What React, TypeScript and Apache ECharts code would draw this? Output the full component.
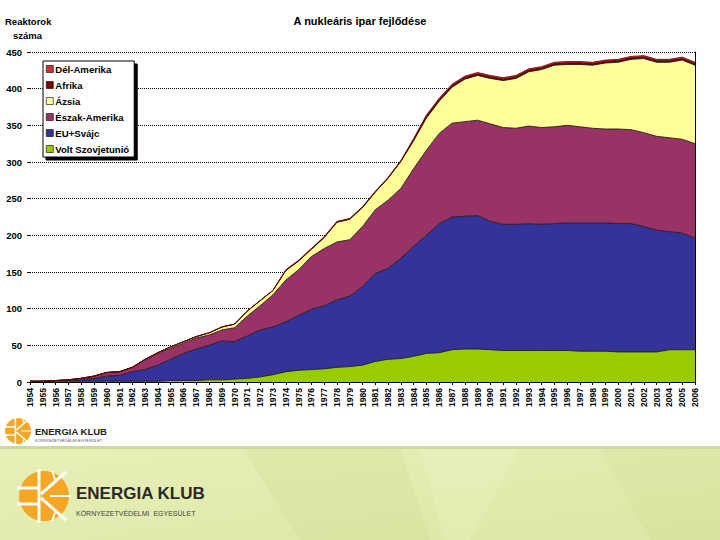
import React, { useEffect, useRef } from "react";
import * as echarts from "echarts";

const years = [
  "1954", "1955", "1956", "1957", "1958", "1959", "1960", "1961", "1962", "1963",
  "1964", "1965", "1966", "1967", "1968", "1969", "1970", "1971", "1972", "1973",
  "1974", "1975", "1976", "1977", "1978", "1979", "1980", "1981", "1982", "1983",
  "1984", "1985", "1986", "1987", "1988", "1989", "1990", "1991", "1992", "1993",
  "1994", "1995", "1996", "1997", "1998", "1999", "2000", "2001", "2002", "2003",
  "2004", "2005", "2006",
];

const voltSzovjetunio = [
  1, 1, 1, 1, 1, 1, 1, 1, 1, 1,
  1, 2, 2, 2, 3, 3, 4, 5, 7, 10,
  14, 16, 17, 18, 20, 21, 23, 28, 31, 32,
  35, 39, 40, 44, 45, 45, 44, 43, 43, 43,
  43, 43, 43, 42, 42, 42, 41, 41, 41, 41,
  44, 44, 44,
];

const euSvajc = [
  0, 0, 1, 1, 2, 4, 7, 8, 13, 16,
  22, 29, 37, 43, 47, 53, 51, 58, 64, 65,
  68, 75, 82, 86, 92, 96, 107, 120, 124, 137,
  150, 161, 176, 181, 181, 182, 175, 172, 172, 173,
  172, 173, 174, 175, 175, 175, 175, 175, 171, 166,
  161, 159, 152,
];

const eszakAmerika = [
  0, 0, 0, 1, 2, 3, 5, 5, 6, 13,
  16, 15, 14, 15, 14, 15, 19, 27, 33, 44,
  57, 62, 72, 78, 79, 77, 82, 87, 93, 95,
  106, 116, 123, 128, 129, 130, 133, 132, 131, 133,
  132, 132, 133, 131, 129, 128, 129, 128, 128, 128,
  128, 128, 129,
];

const azsia = [
  0, 0, 0, 0, 0, 0, 0, 0, 0, 1,
  1, 2, 2, 2, 3, 4, 5, 7, 7, 6,
  13, 12, 10, 15, 27, 28, 26, 24, 30, 37,
  38, 44, 44, 49, 58, 61, 62, 64, 68, 74,
  79, 84, 83, 85, 86, 90, 91, 96, 101, 101,
  103, 108, 107,
];

const afrika = [
  0, 0, 0, 0, 0, 0, 0, 0, 0, 0,
  0, 0, 0, 0, 0, 0, 0, 0, 0, 0,
  0, 0, 0, 0, 0, 0, 0, 0, 0, 0,
  1, 2, 2, 2, 2, 2, 2, 2, 2, 2,
  2, 2, 2, 2, 2, 2, 2, 2, 2, 2,
  2, 2, 2,
];

const delAmerika = [
  0, 0, 0, 0, 0, 0, 0, 0, 0, 0,
  0, 0, 0, 0, 0, 0, 0, 0, 0, 0,
  1, 1, 1, 1, 1, 1, 1, 1, 1, 1,
  2, 2, 2, 2, 2, 2, 2, 2, 2, 2,
  2, 2, 2, 2, 2, 2, 2, 2, 2, 2,
  2, 2, 2,
];

const legendOrder = ["Dél-Amerika", "Afrika", "Ázsia", "Észak-Amerika", "EU+Svájc", "Volt Szovjetunió"];

const FONT = "'Liberation Sans', Arial, sans-serif";

function logoMark(cx: number, cy: number, s: number) {
  const w = 3;
  const white = { stroke: "#ffffff", lineWidth: w };
  return {
    type: "group",
    x: cx,
    y: cy,
    scaleX: s,
    scaleY: s,
    children: [
      { type: "circle", shape: { cx: 0, cy: 0, r: 25 }, style: { fill: "#F5A623" } },
      { type: "line", shape: { x1: -5, y1: -27, x2: -5, y2: 27 }, style: white },
      { type: "line", shape: { x1: -27, y1: -8, x2: -5, y2: -8 }, style: white },
      { type: "line", shape: { x1: -27, y1: 8, x2: -5, y2: 8 }, style: white },
      { type: "line", shape: { x1: -3, y1: -2, x2: 22, y2: -24 }, style: white },
      { type: "line", shape: { x1: -3, y1: 2, x2: 22, y2: 24 }, style: white },
      { type: "line", shape: { x1: 6, y1: 0, x2: 27, y2: 0 }, style: { stroke: "#ffffff", lineWidth: 2 } },
      { type: "line", shape: { x1: 8, y1: -25, x2: 12, y2: -14 }, style: { stroke: "#ffffff", lineWidth: 2 } },
      { type: "line", shape: { x1: 8, y1: 25, x2: 12, y2: 14 }, style: { stroke: "#ffffff", lineWidth: 2 } },
    ],
  };
}

export default function App() {
  const ref = useRef<HTMLDivElement>(null);

  useEffect(() => {
    if (!ref.current) return;
    const chart = echarts.init(ref.current, null, { renderer: "svg" });

    const mk = (name: string, data: number[], color: string, lineColor: string) => ({
      name,
      type: "line",
      stack: "total",
      data,
      symbol: "none",
      showSymbol: false,
      silent: true,
      areaStyle: { color, opacity: 1 },
      lineStyle: { color: lineColor, width: 0.9 },
      itemStyle: { color, borderColor: "#000", borderWidth: 0.6 },
      emphasis: { disabled: true },
    });

    chart.setOption({
      animation: false,
      backgroundColor: "#ffffff",
      textStyle: { fontFamily: FONT },
      title: {
        text: "A nukleáris ipar fejlődése",
        left: "center",
        top: 15,
        padding: 0,
        textStyle: { fontFamily: FONT, fontSize: 11, fontWeight: "bold", color: "#000" },
      },
      legend: {
        data: legendOrder,
        orient: "vertical",
        left: 43,
        top: 61,
        icon: "rect",
        itemWidth: 7,
        itemHeight: 7,
        itemGap: 4,
        padding: [2, 5, 2, 3],
        backgroundColor: "#ffffff",
        borderColor: "#000",
        borderWidth: 1,
        borderRadius: 0,
        shadowColor: "#000",
        shadowBlur: 0,
        shadowOffsetX: 3,
        shadowOffsetY: 3,
        selectedMode: false,
        itemStyle: { borderColor: "#000", borderWidth: 0.6 },
        textStyle: {
          fontFamily: FONT,
          fontSize: 9.6,
          fontWeight: "bold",
          color: "#000",
          lineHeight: 12,
          padding: [0, 0, 0, -3],
        },
      },
      grid: {
        left: 30,
        right: 25,
        top: 52,
        bottom: 158,
        containLabel: false,
        outerBoundsMode: "none",
      },
      xAxis: [
        {
          type: "category",
          data: years,
          boundaryGap: false,
          axisLine: { show: true, lineStyle: { color: "#000", width: 1 } },
          axisTick: { show: true, length: 3, interval: 0, lineStyle: { color: "#000" } },
          axisLabel: {
            interval: 0,
            rotate: 90,
            margin: 6,
            fontFamily: FONT,
            fontSize: 8.5,
            fontWeight: "bold",
            color: "#000",
          },
          splitLine: { show: false },
        },
        {
          type: "category",
          data: years,
          boundaryGap: false,
          position: "top",
          axisLine: { show: true, lineStyle: { color: "#000", width: 1 } },
          axisTick: { show: false },
          axisLabel: { show: false },
          splitLine: { show: false },
        },
      ],
      yAxis: [
        {
          type: "value",
          min: 0,
          max: 450,
          interval: 50,
          axisLine: { show: false },
          axisTick: { show: true, length: 3, lineStyle: { color: "#000" } },
          axisLabel: {
            margin: 8,
            fontFamily: FONT,
            fontSize: 9.5,
            fontWeight: "bold",
            color: "#000",
          },
          splitLine: { show: true, lineStyle: { color: "#000", type: "dotted", width: 1 } },
        },
        {
          type: "value",
          min: 0,
          max: 450,
          interval: 50,
          position: "right",
          axisLine: { show: true, lineStyle: { color: "#000", width: 1 } },
          axisTick: { show: false },
          axisLabel: { show: false },
          splitLine: { show: false },
        },
      ],
      series: [
        mk("Volt Szovjetunió", voltSzovjetunio, "#99CC00", "#1a1a1a"),
        mk("EU+Svájc", euSvajc, "#333399", "#1a1a1a"),
        mk("Észak-Amerika", eszakAmerika, "#993366", "#1a1a1a"),
        mk("Ázsia", azsia, "#FFFF99", "#1a1a1a"),
        mk("Afrika", afrika, "#800000", "#3a0000"),
        mk("Dél-Amerika", delAmerika, "#CC3333", "#800000"),
      ],
      graphic: [
        {
          type: "text",
          left: 5,
          top: 16,
          style: { text: "Reaktorok", fontFamily: FONT, fontSize: 9.5, fontWeight: "bold", fill: "#000" },
        },
        {
          type: "text",
          left: 13,
          top: 30,
          style: { text: "száma", fontFamily: FONT, fontSize: 9.5, fontWeight: "bold", fill: "#000" },
        },
        // small logo
        logoMark(18, 431, 0.52),
        {
          type: "text",
          x: 35,
          y: 431,
          style: {
            text: "ENERGIA KLUB",
            fontFamily: FONT,
            fontSize: 9.5,
            fontWeight: 900,
            fill: "#222",
            textVerticalAlign: "middle",
          },
        },
        {
          type: "text",
          x: 35,
          y: 440,
          style: {
            text: "KÖRNYEZETVÉDELMI EGYESÜLET",
            fontFamily: FONT,
            fontSize: 4,
            fill: "#555",
            textVerticalAlign: "middle",
          },
        },
        // bottom band
        {
          type: "rect",
          shape: { x: 0, y: 446, width: 720, height: 3 },
          style: { fill: "#cdd89c" },
        },
        {
          type: "rect",
          shape: { x: 0, y: 449, width: 720, height: 91 },
          style: {
            fill: new echarts.graphic.LinearGradient(0, 0, 1, 1, [
              { offset: 0, color: "#e8efb8" },
              { offset: 1, color: "#dde7a6" },
            ]),
          },
        },
        {
          type: "polygon",
          shape: { points: [[243, 449], [400, 449], [430, 540], [300, 540]] },
          style: { fill: "rgba(180,195,110,0.12)" },
        },
        {
          type: "polygon",
          shape: { points: [[420, 449], [520, 449], [470, 540], [445, 540]] },
          style: { fill: "rgba(255,255,225,0.14)" },
        },
        {
          type: "polygon",
          shape: { points: [[600, 449], [720, 449], [720, 540], [650, 540]] },
          style: { fill: "rgba(180,195,110,0.1)" },
        },
        logoMark(44, 496, 1),
        {
          type: "text",
          x: 76,
          y: 493,
          style: {
            text: "ENERGIA KLUB",
            fontFamily: FONT,
            fontSize: 17,
            fontWeight: 900,
            fill: "#2a2a2a",
            textVerticalAlign: "middle",
          },
        },
        {
          type: "text",
          x: 76,
          y: 513,
          style: {
            text: "KÖRNYEZETVÉDELMI  EGYESÜLET",
            fontFamily: FONT,
            fontSize: 7,
            fill: "#444",
            textVerticalAlign: "middle",
          },
        },
      ],
    });

    return () => chart.dispose();
  }, []);

  return (
    <div
      ref={ref}
      style={{ position: "absolute", left: 0, top: 0, width: 720, height: 540, background: "#fff" }}
    />
  );
}
